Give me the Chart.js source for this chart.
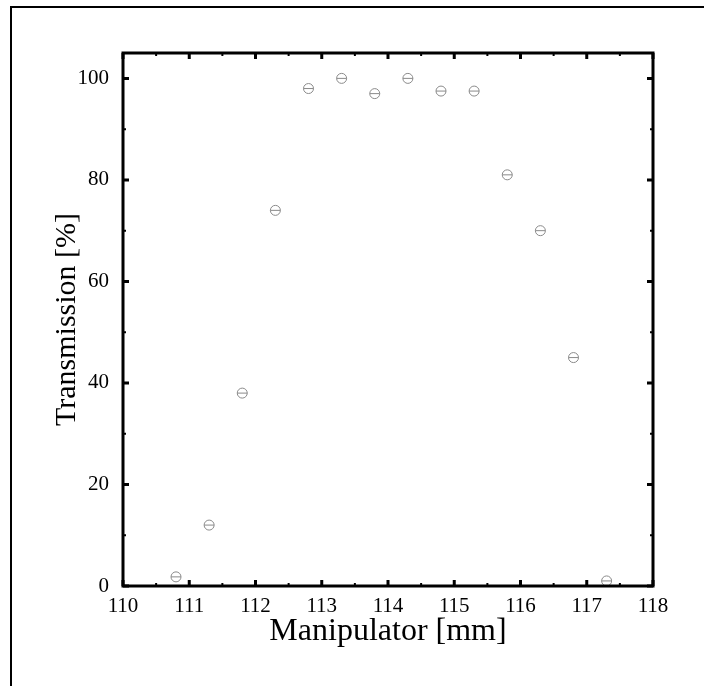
<!DOCTYPE html>
<html>
<head>
<meta charset="utf-8">
<script src="https://cdn.jsdelivr.net/npm/chart.js@4/dist/chart.umd.min.js"></script>
<style>
  html, body { margin: 0; padding: 0; background: #fff; }
  #wrap { position: relative; width: 704px; height: 686px; }
  #frame { position: absolute; left: 10px; top: 6px; right: 0; bottom: 0;
           border-top: 2px solid #000; border-left: 2px solid #000; }
  canvas { position: absolute; left: 0; top: 0; }
</style>
</head>
<body>
<div id="wrap">
  <div id="frame"></div>
  <canvas id="scan" width="704" height="686"></canvas>
</div>
<script>
// manipulator position scan
const positions = [110.8, 111.3, 111.8, 112.3, 112.8, 113.3, 113.8, 114.3, 114.8, 115.3, 115.8, 116.3, 116.8, 117.3];
const transmission = [1.8, 12, 38, 74, 98, 100, 97, 100, 97.5, 97.5, 81, 70, 45, 1];

const xTicks = [110, 111, 112, 113, 114, 115, 116, 117, 118];
const yTicks = [0, 20, 40, 60, 80, 100];
const xMinor = [110.5, 111.5, 112.5, 113.5, 114.5, 115.5, 116.5, 117.5];
const yMinor = [10, 30, 50, 70, 90];

const points = positions.map((x, i) => ({ x: x, y: transmission[i] }));
const serif = '"Liberation Serif", "DejaVu Serif", serif';

// inward ticks on all four sides plus the heavy box
const boxTicks = {
  id: 'boxTicks',
  afterDraw(chart) {
    const { ctx, chartArea: a, scales } = chart;
    ctx.save();
    ctx.strokeStyle = '#000';
    ctx.lineWidth = 3;
    ctx.strokeRect(a.left, a.top, a.right - a.left, a.bottom - a.top);
    const mark = (len, w, vals, axis) => {
      ctx.lineWidth = w;
      ctx.beginPath();
      vals.forEach(v => {
        if (axis === 'x') {
          const px = scales.x.getPixelForValue(v);
          ctx.moveTo(px, a.bottom); ctx.lineTo(px, a.bottom - len);
          ctx.moveTo(px, a.top); ctx.lineTo(px, a.top + len);
        } else {
          const py = scales.y.getPixelForValue(v);
          ctx.moveTo(a.left, py); ctx.lineTo(a.left + len, py);
          ctx.moveTo(a.right, py); ctx.lineTo(a.right - len, py);
        }
      });
      ctx.stroke();
    };
    mark(6, 3, xTicks, 'x');
    mark(6, 3, yTicks, 'y');
    mark(3, 2, xMinor, 'x');
    mark(3, 2, yMinor, 'y');
    ctx.restore();
  }
};

new Chart(document.getElementById('scan').getContext('2d'), {
  type: 'scatter',
  data: {
    datasets: [
      {
        data: points,
        pointStyle: 'circle',
        pointRadius: 5,
        pointBorderWidth: 1,
        pointBorderColor: '#8a8a8a',
        pointBackgroundColor: 'rgba(0,0,0,0)'
      },
      {
        data: points,
        pointStyle: 'line',
        pointRadius: 5,
        pointBorderWidth: 1,
        pointBorderColor: '#8a8a8a'
      }
    ]
  },
  options: {
    responsive: false,
    animation: false,
    layout: { padding: { left: 0, top: 53, right: 51, bottom: 0 } },
    plugins: { legend: { display: false }, tooltip: { enabled: false } },
    scales: {
      x: {
        type: 'linear',
        min: 110,
        max: 118,
        afterBuildTicks: s => { s.ticks = xTicks.map(v => ({ value: v })); },
        afterFit: s => { s.height = 100; },
        grid: { display: false, drawTicks: false },
        border: { display: false },
        ticks: { color: '#000', padding: 8, font: { family: serif, size: 21 } },
        title: {
          display: true,
          text: 'Manipulator [mm]',
          color: '#000',
          padding: { top: 0, bottom: 35 },
          font: { family: serif, size: 32 }
        }
      },
      y: {
        min: 0,
        max: 105,
        afterBuildTicks: s => { s.ticks = yTicks.map(v => ({ value: v })); },
        afterFit: s => { s.width = 123; },
        grid: { display: false, drawTicks: false },
        border: { display: false },
        ticks: { color: '#000', padding: 14, font: { family: serif, size: 21 } },
        title: {
          display: true,
          text: 'Transmission [%]',
          color: '#000',
          padding: { top: 49, bottom: 49 },
          font: { family: serif, size: 30 }
        }
      }
    }
  },
  plugins: [boxTicks]
});
</script>
</body>
</html>
